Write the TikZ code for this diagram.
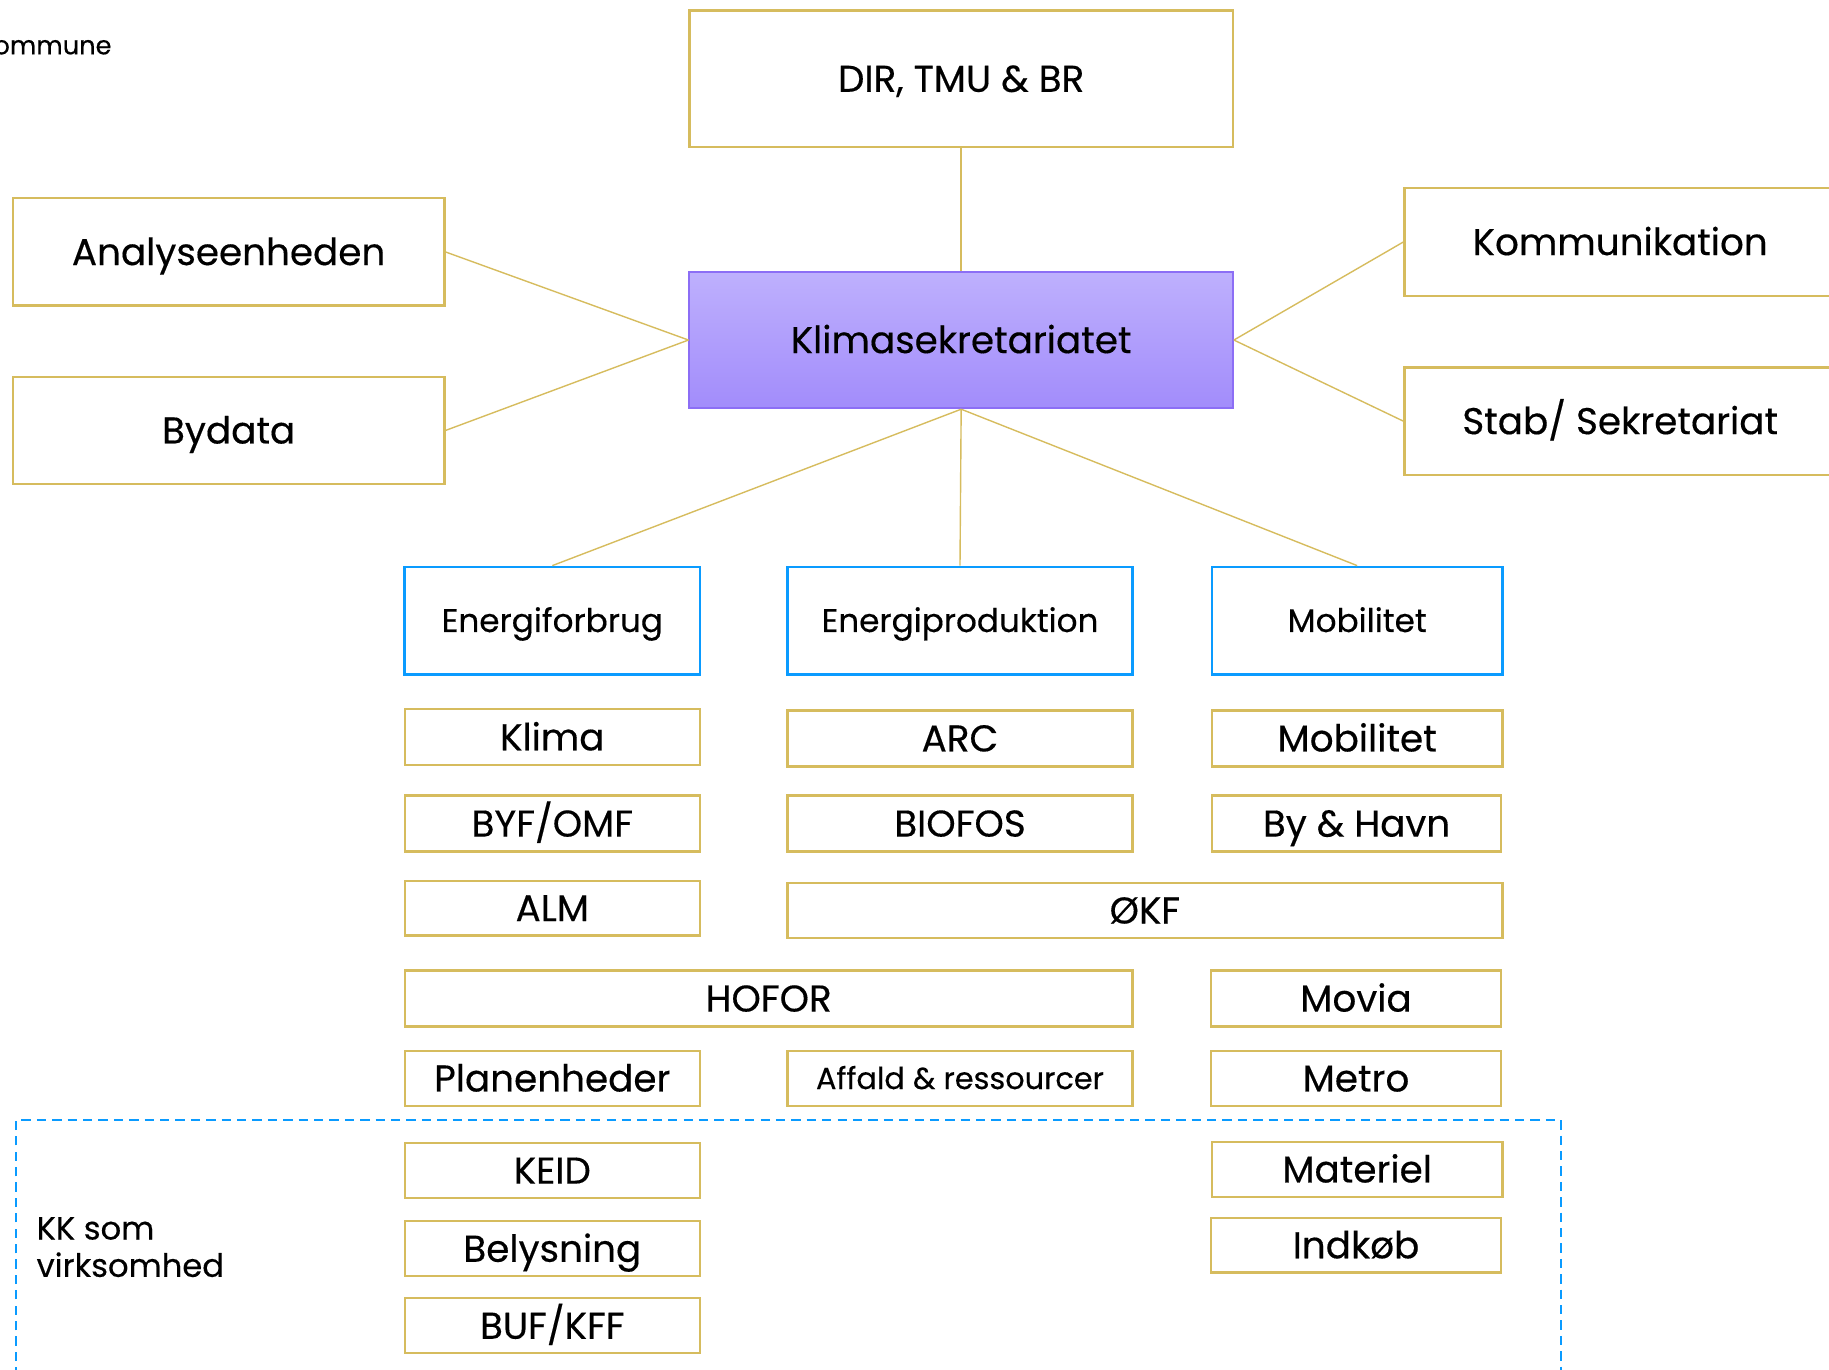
\documentclass[tikz,border=0pt]{standalone}
\usepackage{fontspec}
\setmainfont{Poppins}[FakeBold=0.35]
\definecolor{gold}{RGB}{214,188,94}
\definecolor{bblue}{RGB}{10,155,255}
\definecolor{ptop}{RGB}{190,176,253}
\definecolor{pbot}{RGB}{162,140,251}
\definecolor{pborder}{RGB}{140,110,245}
\newcommand\obox[7]{\node[#2, minimum width={(#5-#3)*0.5pt}, minimum height={(#6-#4)*0.5pt}] (#1) at ({(#3+#5)/2},{(#4+#6)/2}) {#7};}
\tikzset{
  goldbox/.style={draw=gold, line width=1pt, fill=white, inner sep=0pt, text depth=0pt},
  bluebox/.style={draw=bblue, line width=1.1pt, fill=white, inner sep=0pt, font=\fontsize{14}{16}\selectfont, text height=9.8pt, text depth=0pt},
  bigtxt/.style={font=\fontsize{16}{19}\selectfont, text height=11.2pt},
  smalltxt/.style={font=\fontsize{13}{15}\selectfont, text height=9.1pt},
  conn/.style={draw=gold, line width=0.6pt},
}
\begin{document}
\begin{tikzpicture}[x=0.5pt,y=-0.5pt]
\useasboundingbox (0,0) rectangle (1568,1174);
% dashed region
\draw[bblue, line width=0.9pt, dash pattern=on 4pt off 2.6pt] (14,1180) -- (14,960) -- (1338,960) -- (1338,1180);
% top text
\node[anchor=east, inner sep=0pt, font=\fontsize{11}{13}\selectfont] (kom) at (96,39) {Kommune};
% top level
\obox{dir}{goldbox,bigtxt}{591}{9}{1057}{126}{DIR, TMU \& BR}
\obox{ana}{goldbox,bigtxt}{11}{170}{381}{262}{Analyseenheden}
\obox{byd}{goldbox,bigtxt}{11}{323}{381}{415}{Bydata}
\node[draw=pborder, line width=0.8pt, top color=ptop, bottom color=pbot, inner sep=0pt, minimum width={466*0.5pt}, minimum height={117*0.5pt}, text depth=0pt, bigtxt] (kli) at (824,291.5) {Klimasekretariatet};
\obox{kmm}{goldbox,bigtxt}{1204}{161}{1574}{254}{Kommunikation}
\obox{stab}{goldbox,bigtxt}{1204}{315}{1574}{407}{Stab/ Sekretariat}
% blue boxes
\obox{ef}{bluebox}{347}{486}{600}{578}{Energiforbrug}
\obox{ep}{bluebox}{675}{486}{971}{578}{Energiproduktion}
\obox{mb}{bluebox}{1039}{486}{1288}{578}{Mobilitet}
% small boxes
\obox{klima}{goldbox,bigtxt}{347}{608}{600}{656}{Klima}
\obox{arc}{goldbox,bigtxt}{675}{609}{971}{657}{ARC}
\obox{mob}{goldbox,bigtxt}{1039}{609}{1288}{657}{Mobilitet}
\obox{byf}{goldbox,bigtxt}{347}{682}{600}{730}{BYF/OMF}
\obox{bio}{goldbox,bigtxt}{675}{682}{971}{730}{BIOFOS}
\obox{byh}{goldbox,bigtxt}{1039}{682}{1287}{730}{By \& Havn}
\obox{alm}{goldbox,bigtxt}{347}{755}{600}{802}{ALM}
\obox{okf}{goldbox,bigtxt}{675}{757}{1288}{804}{ØKF}
\obox{hof}{goldbox,bigtxt}{347}{832}{971}{880}{HOFOR}
\obox{mov}{goldbox,bigtxt}{1038}{832}{1287}{880}{Movia}
\obox{pla}{goldbox,bigtxt}{347}{901}{600}{948}{Planenheder}
\obox{aff}{goldbox,smalltxt}{675}{901}{971}{948}{Affald \& ressourcer}
\obox{met}{goldbox,bigtxt}{1038}{901}{1287}{948}{Metro}
\obox{keid}{goldbox,bigtxt}{347}{980}{600}{1027}{KEID}
\obox{bel}{goldbox,bigtxt}{347}{1047}{600}{1094}{Belysning}
\obox{buf}{goldbox,bigtxt}{347}{1113}{600}{1160}{BUF/KFF}
\obox{mat}{goldbox,bigtxt}{1039}{979}{1288}{1026}{Materiel}
\obox{ind}{goldbox,bigtxt}{1038}{1044}{1287}{1091}{Indkøb}
\node[anchor=north west, align=left, inner sep=0pt, font=\fontsize{13.8}{16}\selectfont] (kk) at (31,1043) {KK som\\virksomhed};
% connectors
\draw[conn] (dir.south) -- (kli.north);
\draw[conn] (ana.east) -- (kli.west);
\draw[conn] (byd.east) -- (kli.west);
\draw[conn] (kli.east) -- (kmm.west);
\draw[conn] (kli.east) -- (stab.west);
\draw[conn] (kli.south) -- (ef.north);
\draw[conn] (kli.south) -- (ep.north);
\draw[conn] (kli.south) -- (mb.north);
\end{tikzpicture}
\end{document}
